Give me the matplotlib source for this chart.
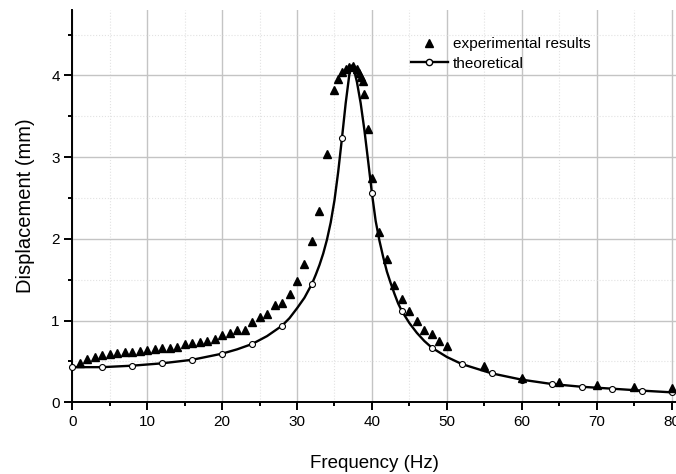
import matplotlib

matplotlib.use("Agg")
import matplotlib.pyplot as plt
from matplotlib.lines import Line2D
from matplotlib.ticker import MultipleLocator

plt.rcParams["font.family"] = ["Liberation Sans", "DejaVu Sans"]

# experimental points (triangles)
exp_freq = [1, 2, 3, 4, 5, 6, 7, 8, 9, 10, 11, 12, 13, 14, 15, 16, 17, 18, 19, 20,
            21, 22, 23, 24, 25, 26, 27, 28, 29, 30, 31, 32, 33, 34, 35, 35.5, 36, 36.5,
            37, 37.5, 38, 38.3, 38.6, 38.8, 39, 39.5, 40, 41, 42, 43, 44, 45, 46, 47,
            48, 49, 50, 55, 60, 65, 70, 75, 80]
exp_disp = [0.485, 0.525, 0.55, 0.574, 0.587, 0.607, 0.61, 0.62, 0.627, 0.64, 0.648,
            0.66, 0.66, 0.68, 0.71, 0.725, 0.737, 0.754, 0.778, 0.823, 0.85, 0.88,
            0.884, 0.978, 1.04, 1.08, 1.185, 1.22, 1.32, 1.49, 1.69, 1.97, 2.34, 3.04,
            3.82, 3.95, 4.04, 4.08, 4.10, 4.12, 4.08, 4.03, 3.98, 3.93, 3.77, 3.35,
            2.75, 2.085, 1.75, 1.43, 1.26, 1.12, 0.99, 0.89, 0.835, 0.754, 0.69,
            0.45, 0.30, 0.25, 0.21, 0.19, 0.175]

# theoretical curve
theo_freq = [0, 4, 8, 12, 16, 20, 22, 24, 26, 28, 29, 30, 31, 32, 32.5, 33, 33.5,
             34, 34.5, 35, 35.5, 36, 36.5, 37, 37.3, 37.6, 38, 38.5, 39, 39.5, 40,
             40.5, 41, 41.5, 42, 42.5, 43, 43.5, 44, 45, 46, 47, 48, 50, 52, 56, 60,
             64, 68, 72, 76, 80]
theo_disp = [0.43, 0.43, 0.448, 0.477, 0.52, 0.595, 0.648, 0.713, 0.81, 0.937, 1.03,
             1.15, 1.28, 1.45, 1.56, 1.68, 1.82, 1.99, 2.2, 2.47, 2.82, 3.23, 3.66,
             4.02, 4.12, 4.07, 3.92, 3.66, 3.33, 2.95, 2.56, 2.22, 1.98, 1.78, 1.6,
             1.46, 1.33, 1.21, 1.116, 0.97, 0.85, 0.75, 0.668, 0.555, 0.468, 0.354,
             0.277, 0.224, 0.19, 0.167, 0.143, 0.122]

# open circle markers every 4 Hz on the theoretical curve
circ_freq = [0, 4, 8, 12, 16, 20, 24, 28, 32, 36, 40, 44, 48, 52, 56, 60, 64, 68, 72, 76, 80]
circ_disp = [0.43, 0.43, 0.448, 0.477, 0.52, 0.595, 0.713, 0.937, 1.45, 3.23, 2.56,
             1.116, 0.668, 0.468, 0.354, 0.277, 0.224, 0.19, 0.167, 0.143, 0.122]

W, H = 676, 474
fig = plt.figure(figsize=(W / 100, H / 100), dpi=100)
x0, y0, x1, y1 = 72.3, 402.3, 676, 10
ax = fig.add_axes([x0 / W, 1 - y0 / H, (x1 - x0) / W, (y0 - y1) / H])

ax.plot(theo_freq, theo_disp, color="black", lw=1.7, zorder=3,
        solid_joinstyle="round")
ax.plot(circ_freq, circ_disp, ls="none", marker="o", ms=4.3, mfc="white",
        mec="black", mew=0.8, zorder=4, clip_on=False)
ax.plot(exp_freq, exp_disp, ls="none", marker="^", ms=5.5, color="black", zorder=5,
        clip_on=False)

handles = [
    Line2D([], [], ls="none", marker="^", ms=6, color="black"),
    Line2D([], [], color="black", lw=1.7, marker="o", ms=4.5, mfc="white", mec="black"),
]
ax.legend(handles, ["experimental results", "theoretical"], loc="upper left",
          bbox_to_anchor=(0.543, 0.958), frameon=False, fontsize=11.1,
          handlelength=2.4, handletextpad=0.33, labelspacing=0.36, borderpad=0.2)

ax.set_xlim(0, 80.6)
ax.set_ylim(0, 4.8)
ax.xaxis.set_major_locator(MultipleLocator(10))
ax.xaxis.set_minor_locator(MultipleLocator(5))
ax.yaxis.set_major_locator(MultipleLocator(1))
ax.yaxis.set_minor_locator(MultipleLocator(0.5))

ax.grid(which="major", color="#c4c4c4", lw=1.0, zorder=0)
ax.grid(which="minor", color="#e2e2e2", lw=0.8, ls=":", zorder=0)
ax.set_axisbelow(True)

for side in ["top", "right"]:
    ax.spines[side].set_visible(False)
for side in ["left", "bottom"]:
    ax.spines[side].set_linewidth(1.4)

ax.tick_params(which="major", direction="out", length=5.5, width=1.4, labelsize=11,
               colors="black")
ax.tick_params(which="minor", direction="out", length=3, width=1.4)

ax.set_xlabel("Frequency (Hz)", fontsize=13.5, labelpad=19)
ax.set_ylabel("Displacement (mm)", fontsize=14.5, labelpad=12)

fig.savefig("out.png", dpi=100)
